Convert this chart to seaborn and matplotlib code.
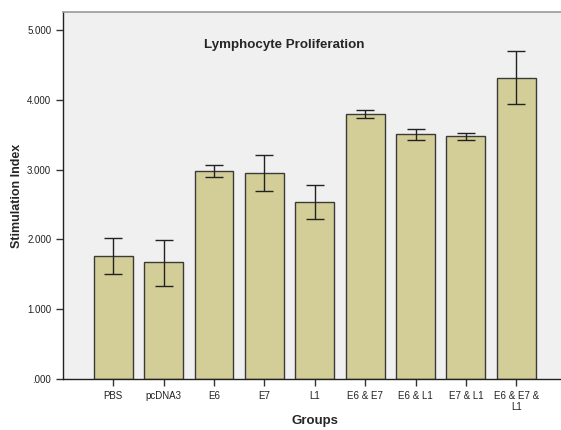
import pandas as pd
import matplotlib
matplotlib.use("Agg")
import matplotlib.pyplot as plt
import seaborn as sns
from matplotlib.ticker import FuncFormatter

groups = ["PBS", "pcDNA3", "E6", "E7", "L1", "E6 & E7", "E6 & L1", "E7 & L1", "E6 & E7 &\nL1"]
means = [1.76, 1.67, 2.98, 2.95, 2.54, 3.80, 3.51, 3.48, 4.32]
ci_low = [1.50, 1.33, 2.89, 2.70, 2.30, 3.74, 3.43, 3.42, 3.94]
ci_high = [2.02, 1.99, 3.07, 3.21, 2.78, 3.85, 3.59, 3.53, 4.70]

df = pd.DataFrame({"Groups": groups, "Stimulation Index": means})

sns.set_style("white")
plt.rcParams['font.family'] = ['Liberation Sans', 'DejaVu Sans']

fig = plt.figure(figsize=(5.61, 4.30), dpi=100)
ax = fig.add_axes([63 / 561, 1 - 379 / 430, 1 - 63 / 561 + 0.01, (379 - 12) / 430])
ax.set_facecolor("#F0F0F0")

sns.barplot(data=df, x="Groups", y="Stimulation Index", color="#D3CE97",
            saturation=1, width=0.77, edgecolor="#3a3a3a", linewidth=1,
            errorbar=None, ax=ax)

lo = [m - l for m, l in zip(means, ci_low)]
hi = [h - m for m, h in zip(means, ci_high)]
ax.errorbar(range(len(groups)), means, yerr=[lo, hi], fmt="none",
            ecolor="#222222", elinewidth=1, capsize=6.5, capthick=1)

ax.set_xlim(-1, 9)
ax.set_ylim(0, 5.26)
ax.set_yticks([0, 1, 2, 3, 4, 5])
ax.yaxis.set_major_formatter(FuncFormatter(lambda v, p: ".000" if v == 0 else "%.3f" % v))
ax.tick_params(axis="both", direction="out", length=5, width=1, colors="#333333",
               labelsize=7, labelcolor="#222222", bottom=True, left=True)

for s in ["left", "bottom"]:
    ax.spines[s].set_color("#222222")
    ax.spines[s].set_linewidth(1)
ax.spines["top"].set_color("#999999")
ax.spines["top"].set_linewidth(1.2)
ax.spines["right"].set_visible(False)

ax.set_xlabel("Groups", fontsize=9.5, fontweight="bold", labelpad=2)
ax.set_ylabel("Stimulation Index", fontsize=9, fontweight="bold", labelpad=3)
ax.text(0.44, 0.91, "Lymphocyte Proliferation", transform=ax.transAxes,
        ha="center", va="center", fontsize=9.6, fontweight="bold")

plt.savefig("out.png", dpi=100)
